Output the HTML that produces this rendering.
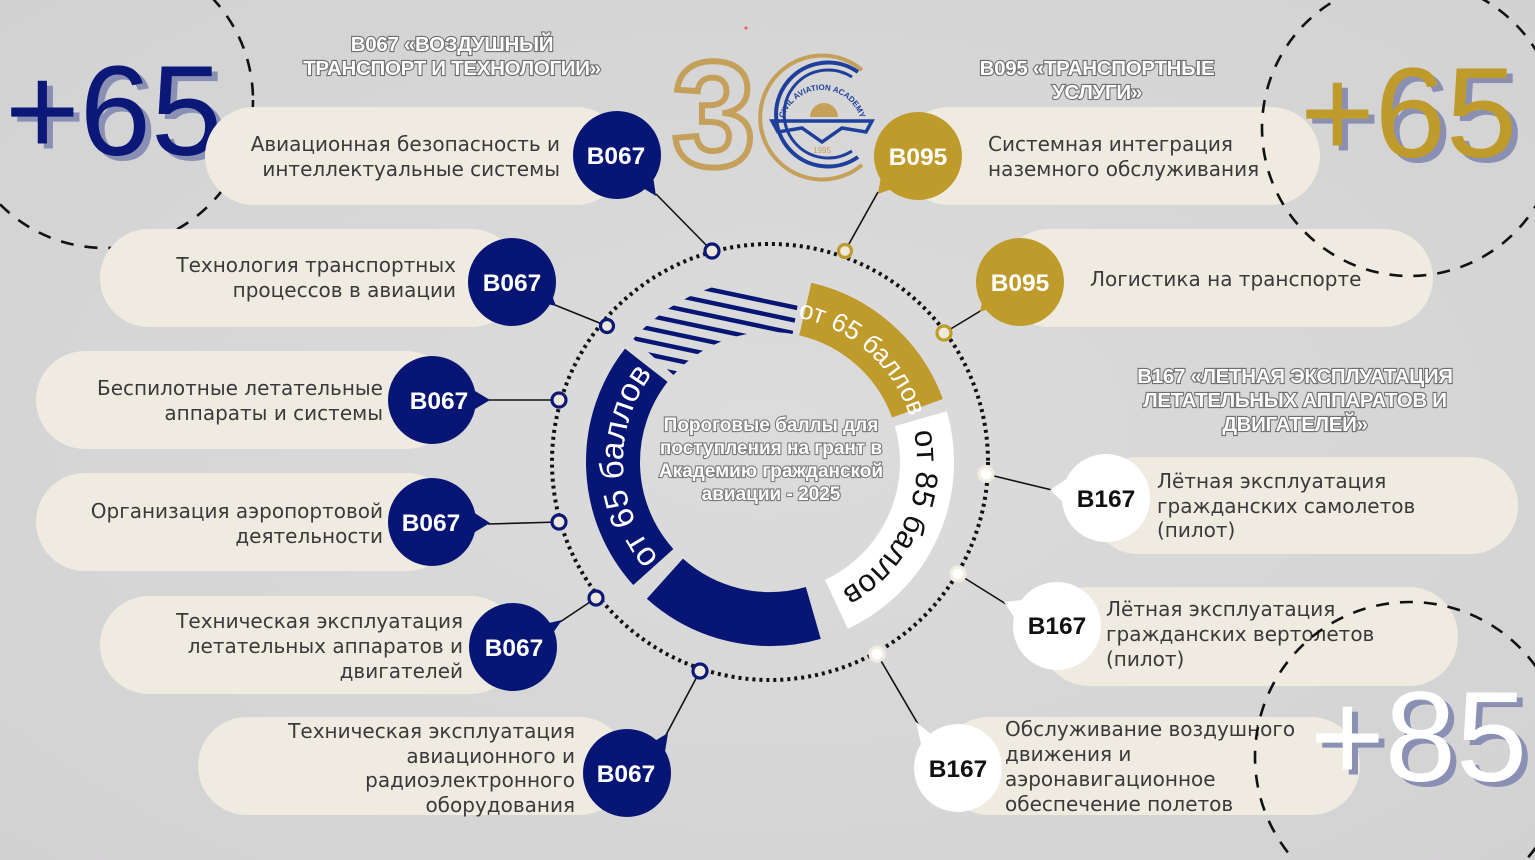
<!DOCTYPE html>
<html><head><meta charset="utf-8"><style>
html,body{margin:0;padding:0;width:1535px;height:860px;overflow:hidden;}
body{background:#d8d8d8;}
svg{display:block;font-family:"Liberation Sans","DejaVu Sans",sans-serif;}
.pt{font-size:20px;fill:#3a3a3a;font-family:"DejaVu Sans","Liberation Sans",sans-serif;}
.lb{font-size:24.5px;font-weight:bold;fill:#fff;text-anchor:middle;}
.lbk{font-size:24.5px;font-weight:bold;fill:#111;text-anchor:middle;}
.hd{font-size:20.5px;font-weight:bold;fill:#fff;stroke:#6e6e6e;stroke-width:2.2px;paint-order:stroke;text-anchor:middle;letter-spacing:-0.3px;}
.ct{font-size:19px;font-weight:bold;fill:#fff;stroke:#7a7a7a;stroke-width:2.2px;paint-order:stroke;text-anchor:middle;}
.dash{fill:none;stroke:#111;stroke-width:2.6;stroke-dasharray:13 11;}
.ln{stroke:#111;stroke-width:1.6;}
</style></head><body>
<svg width="1535" height="860" viewBox="0 0 1535 860" xmlns="http://www.w3.org/2000/svg">
<defs>
<radialGradient id="bg" cx="50%" cy="50%" r="70%"><stop offset="0" stop-color="#dcdcdc"/><stop offset="1" stop-color="#d3d2d3"/></radialGradient>
<clipPath id="sc"><path d="M633.3,338.9 A184,184 0 0 1 802,280.8 L792.6,334 A130,130 0 0 0 673.4,375 Z"/></clipPath>
<path id="tl" d="M660.8,560.3 A147,147 0 0 1 654.2,371.4"/>
<path id="tg" d="M790.5,316.4 A147,147 0 0 1 912.0,423.9"/>
<path id="tw" d="M911.3,421.5 A147,147 0 0 1 832.1,595.2"/>
<path id="la" d="M782,130 A40,40 0 0 1 862,130"/>
</defs>
<rect width="1535" height="860" fill="url(#bg)"/>

<circle class="dash" cx="105" cy="100" r="148"/>
<g font-size="128" font-family="Liberation Sans,sans-serif">
<text x="11" y="160" fill="#8a8fb4">+65</text>
<text x="5" y="155" fill="#0b1878">+65</text>
</g>

<g fill="#efebe1">
<rect x="205" y="107" width="420" height="98" rx="49"/>
<rect x="100" y="229" width="420" height="98" rx="49"/>
<rect x="36" y="351" width="420" height="98" rx="49"/>
<rect x="36" y="473" width="420" height="98" rx="49"/>
<rect x="100" y="596" width="420" height="98" rx="49"/>
<rect x="198" y="717" width="430" height="98" rx="49"/>
<rect x="900" y="107" width="420" height="98" rx="49"/>
<rect x="1000" y="229" width="433" height="98" rx="49"/>
<rect x="1090" y="457" width="428" height="97" rx="48"/>
<rect x="1040" y="587" width="418" height="99" rx="49"/>
<rect x="940" y="717" width="420" height="98" rx="49"/>
</g>

<g class="ln">
<line x1="656" y1="194" x2="712" y2="251"/>
<line x1="555" y1="305" x2="607" y2="326"/>
<line x1="488" y1="400" x2="559" y2="400"/>
<line x1="488" y1="524" x2="559" y2="522"/>
<line x1="560" y1="622" x2="596" y2="598"/>
<line x1="666" y1="735" x2="700" y2="671"/>
<line x1="878" y1="192" x2="845" y2="251"/>
<line x1="982" y1="310" x2="944" y2="333"/>
<line x1="1052" y1="490" x2="986" y2="474"/>
<line x1="1006" y1="604" x2="958" y2="574"/>
<line x1="918" y1="724" x2="877" y2="654"/>
</g>

<circle cx="770" cy="462" r="218" fill="none" stroke="#111" stroke-width="4" stroke-dasharray="3 4"/>

<g fill="none" stroke-width="54">
<path d="M805.3,309.1 A157,157 0 0 1 917.5,408.3" stroke="#bf9b2b"/>
<path d="M920.9,418.7 A157,157 0 0 1 836.4,604.3" stroke="#ffffff"/>
<path d="M813.3,612.9 A157,157 0 0 1 664.9,578.7" stroke="#071575"/>
<path d="M653.3,567.0 A157,157 0 0 1 646.3,365.3" stroke="#071575"/>
</g>
<g clip-path="url(#sc)" stroke="#071575" stroke-width="4.5">
<line x1="580" y1="262" x2="840" y2="317"/>
<line x1="580" y1="275" x2="840" y2="330"/>
<line x1="580" y1="288" x2="840" y2="343"/>
<line x1="580" y1="301" x2="840" y2="356"/>
<line x1="580" y1="314" x2="840" y2="369"/>
<line x1="580" y1="327" x2="840" y2="382"/>
<line x1="580" y1="340" x2="840" y2="395"/>
<line x1="580" y1="353" x2="840" y2="408"/>
</g>
<text font-size="33" fill="#fff"><textPath href="#tl" startOffset="50%" text-anchor="middle">от 65 баллов</textPath></text>
<text font-size="26" fill="#fff"><textPath href="#tg" startOffset="50%" text-anchor="middle">от 65 баллов</textPath></text>
<text font-size="31" fill="#111"><textPath href="#tw" startOffset="50%" text-anchor="middle">от 85 баллов</textPath></text>

<text class="ct" x="771" y="431">Пороговые баллы для</text>
<text class="ct" x="771" y="454">поступления на грант в</text>
<text class="ct" x="771" y="477">Академию гражданской</text>
<text class="ct" x="771" y="500">авиации - 2025</text>

<g stroke-width="3.2" fill="#ede8dc">
<circle cx="712" cy="251" r="7" stroke="#0b1878"/>
<circle cx="607" cy="326" r="6.5" stroke="#0b1878"/>
<circle cx="559" cy="400" r="7" stroke="#0b1878"/>
<circle cx="559" cy="522" r="7" stroke="#0b1878"/>
<circle cx="596" cy="598" r="7" stroke="#0b1878"/>
<circle cx="700" cy="671" r="7" stroke="#0b1878"/>
<circle cx="845" cy="251" r="6.5" stroke="#bf9b2b"/>
<circle cx="944" cy="333" r="7" stroke="#bf9b2b"/>
<circle cx="986" cy="474" r="7" stroke="#f0ece2" fill="#fff"/>
<circle cx="958" cy="574" r="7" stroke="#f0ece2" fill="#fff"/>
<circle cx="877" cy="654" r="7" stroke="#f0ece2" fill="#fff"/>
</g>

<g fill="#071575">
<circle cx="617" cy="155" r="44"/><polygon points="638,185 656,196 652,170"/>
<circle cx="512" cy="282" r="44"/><polygon points="530,300 556,306 548,285"/>
<circle cx="432" cy="400" r="44"/><polygon points="470,388 490,400 470,412"/>
<circle cx="432" cy="522" r="44"/><polygon points="470,510 490,523 470,535"/>
<circle cx="513" cy="647" r="44"/><polygon points="540,625 562,620 548,640"/>
<circle cx="627" cy="773" r="44"/><polygon points="648,745 668,733 664,758"/>
</g>
<g fill="#bf9b2b">
<circle cx="918" cy="156" r="44"/><polygon points="882,170 878,194 900,186"/>
<circle cx="1020" cy="282" r="44"/><polygon points="984,292 980,312 1000,305"/>
</g>
<g fill="#fff">
<circle cx="1106" cy="498" r="44"/><polygon points="1068,478 1050,490 1066,505"/>
<circle cx="1057" cy="626" r="44"/><polygon points="1022,600 1004,602 1016,620"/>
<circle cx="958" cy="768" r="44"/><polygon points="932,735 916,722 922,748"/>
</g>
<text class="lb" x="616" y="164">B067</text>
<text class="lb" x="512" y="291">B067</text>
<text class="lb" x="439" y="409">B067</text>
<text class="lb" x="431" y="531">B067</text>
<text class="lb" x="514" y="656">B067</text>
<text class="lb" x="626" y="782">B067</text>
<text class="lb" x="918" y="165">B095</text>
<text class="lb" x="1020" y="291">B095</text>
<text class="lbk" x="1106" y="507">B167</text>
<text class="lbk" x="1057" y="634">B167</text>
<text class="lbk" x="958" y="777">B167</text>

<g class="pt" text-anchor="end">
<text x="560" y="151">Авиационная безопасность и</text>
<text x="560" y="176">интеллектуальные системы</text>
<text x="456" y="272">Технология транспортных</text>
<text x="456" y="297">процессов в авиации</text>
<text x="383" y="395">Беспилотные летательные</text>
<text x="383" y="420">аппараты и системы</text>
<text x="383" y="518">Организация аэропортовой</text>
<text x="383" y="543">деятельности</text>
<text x="463" y="628">Техническая эксплуатация</text>
<text x="463" y="653">летательных аппаратов и</text>
<text x="463" y="678">двигателей</text>
<text x="575" y="738">Техническая эксплуатация</text>
<text x="575" y="763">авиационного и</text>
<text x="575" y="787">радиоэлектронного</text>
<text x="575" y="812">оборудования</text>
</g>
<g class="pt">
<text x="988" y="151">Системная интеграция</text>
<text x="988" y="176">наземного обслуживания</text>
<text x="1090" y="286">Логистика на транспорте</text>
<text x="1157" y="488">Лётная эксплуатация</text>
<text x="1157" y="513">гражданских самолетов</text>
<text x="1157" y="537">(пилот)</text>
<text x="1106" y="616">Лётная эксплуатация</text>
<text x="1106" y="641">гражданских вертолетов</text>
<text x="1106" y="666">(пилот)</text>
<text x="1005" y="736">Обслуживание воздушного</text>
<text x="1005" y="761">движения и</text>
<text x="1005" y="786">аэронавигационное</text>
<text x="1005" y="811">обеспечение полетов</text>
</g>

<circle class="dash" cx="1410" cy="128" r="148"/>
<circle class="dash" cx="1410" cy="757" r="155"/>
<g font-size="128" font-family="Liberation Sans,sans-serif">
<text x="1306" y="162" fill="#8a8fb4">+65</text>
<text x="1300" y="157" fill="#bf9b2b">+65</text>
<text x="1316" y="786" fill="#8a8fb4">+85</text>
<text x="1310" y="781" fill="#ffffff">+85</text>
</g>

<text class="hd" x="452" y="51">B067 «ВОЗДУШНЫЙ</text>
<text class="hd" x="452" y="75">ТРАНСПОРТ И ТЕХНОЛОГИИ»</text>
<text class="hd" x="1097" y="75">B095 «ТРАНСПОРТНЫЕ</text>
<text class="hd" x="1097" y="99">УСЛУГИ»</text>
<text class="hd" x="1295" y="383">B167 «ЛЕТНАЯ ЭКСПЛУАТАЦИЯ</text>
<text class="hd" x="1295" y="407">ЛЕТАТЕЛЬНЫХ АППАРАТОВ И</text>
<text class="hd" x="1295" y="431">ДВИГАТЕЛЕЙ»</text>

<circle cx="746" cy="28" r="1.5" fill="#e55"/>
<text x="672" y="166" font-size="150" font-weight="bold" font-family="Liberation Sans,sans-serif" fill="none" stroke="#c4a05a" stroke-width="6">3</text>
<path d="M862,165 A62,62 0 1 1 862,70" fill="none" stroke="#c4a05a" stroke-width="4"/>
<path d="M858,157 A52,52 0 1 1 858,72" fill="none" stroke="#1e3f9c" stroke-width="4"/>
<path d="M852,151 A44,44 0 1 1 852,77" fill="none" stroke="#1e3f9c" stroke-width="3"/>
<path d="M810,117 A14,14 0 0 1 838,117 Z" fill="#c4a05a"/>
<path d="M772,121 L872,121 L866,132 L842,128 L822,142 L802,128 L778,132 Z" fill="none" stroke="#1e3f9c" stroke-width="3.5"/>
<text font-size="8" fill="#1e3f9c" font-weight="bold"><textPath href="#la" startOffset="50%" text-anchor="middle">CIVIL AVIATION ACADEMY</textPath></text>
<text x="822" y="153" font-size="8" fill="#c4a05a" text-anchor="middle">1995</text>
</svg>
</body></html>
